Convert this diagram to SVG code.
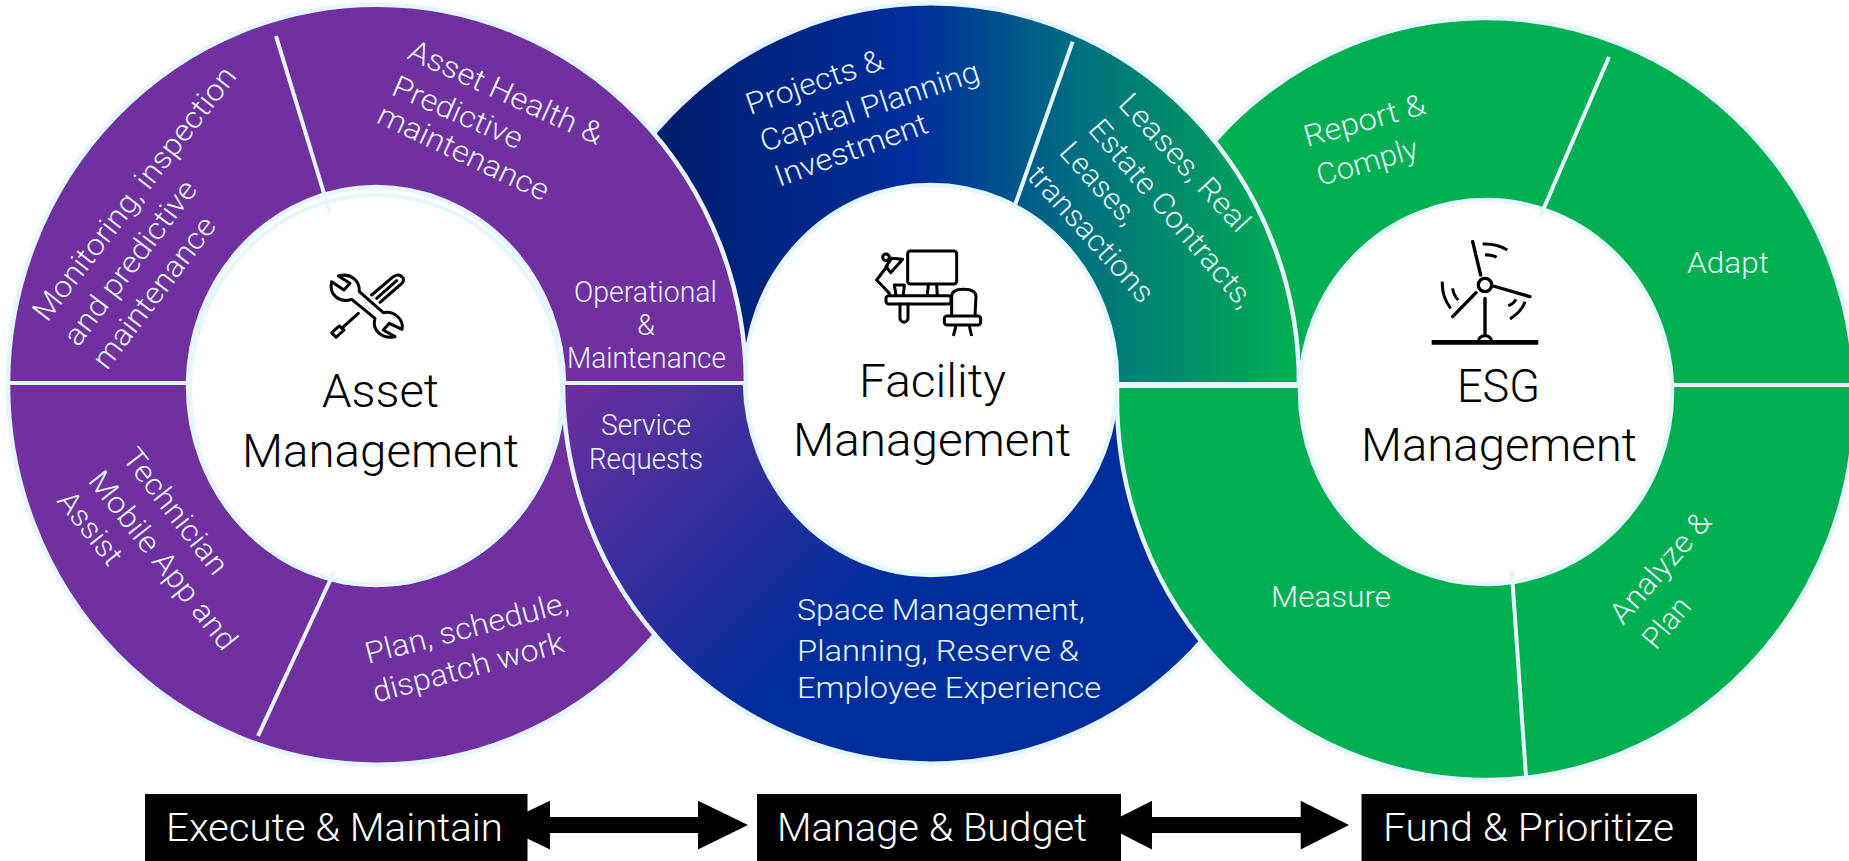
<svg xmlns="http://www.w3.org/2000/svg" width="1849" height="861" viewBox="0 0 1849 861">
<style>
text{font-family:"Roboto","Liberation Sans",sans-serif;font-weight:300}
.l{fill:#e5f6ff;font-size:30px}
.h{fill:#000;font-size:47px}
.b{fill:#fff;font-size:39px}
.ring{stroke:#e5f6ff;stroke-width:4.5;fill-rule:evenodd}
.d{stroke:#e5f6ff;stroke-width:4;fill:none}
.ic{fill:none;stroke:#000;stroke-linecap:round;stroke-linejoin:round;stroke-width:9}
.bt{stroke-linecap:butt}
</style>
<defs>
<clipPath id="up"><rect x="0" y="0" width="1849" height="384"/></clipPath>
<clipPath id="lo"><rect x="0" y="384" width="1849" height="477"/></clipPath>
<linearGradient id="fu" gradientUnits="userSpaceOnUse" x1="654" y1="0" x2="1300" y2="0">
<stop offset="0" stop-color="#001d6c"/><stop offset=".4" stop-color="#002d9c"/><stop offset=".66" stop-color="#00707f"/><stop offset="1" stop-color="#00b050"/>
</linearGradient>
<linearGradient id="fl" gradientUnits="userSpaceOnUse" x1="565" y1="383" x2="820" y2="640">
<stop offset="0" stop-color="#6f2f9f"/><stop offset="1" stop-color="#002d9c"/>
</linearGradient>
<path id="ra" d="M8 384.700A369 380 0 1 1 746 384.700A369 380 0 1 1 8 384.700ZM188 386A188 199 0 1 0 564 386A188 199 0 1 0 188 386Z"/>
<path id="rf" d="M563 383.500A368 380 0 1 1 1299 383.500A368 380 0 1 1 563 383.500ZM745 380A186 195 0 1 0 1117 380A186 195 0 1 0 745 380Z"/>
<path id="re" d="M1117 399A369 381 0 1 1 1855 399A369 381 0 1 1 1117 399ZM1300 392A186 192 0 1 0 1672 392A186 192 0 1 0 1300 392Z"/>
</defs>
<g id="rings">
<g clip-path="url(#up)">
<use href="#re" class="ring" fill="#00b050"/>
<use href="#rf" class="ring" fill="url(#fu)"/>
<use href="#ra" class="ring" fill="#7030a0"/>
</g>
<g clip-path="url(#lo)">
<use href="#ra" class="ring" fill="#7030a0"/>
<use href="#rf" class="ring" fill="url(#fl)"/>
<use href="#re" class="ring" fill="#00b050"/>
</g>
<ellipse cx="376" cy="390" rx="186" ry="195" fill="none" stroke="#e5f6ff" stroke-width="4"/>
</g>
<g id="connectors">
<path class="d" d="M9 383H189M565 383H745M276 36L330 213M334.500 571L258 736"/>
<path class="d" d="M1072.700 41.700L1015.400 204"/>
<path class="d" style="stroke-width:6" d="M1118 385H1300"/>
<path class="d" d="M1609 57L1540 217M1672 385H1849M1511.700 570L1526 777"/>
<path fill="#000" d="M499 825L550 800.700V817H698V800.700L748 825L698 849.500V833H550V849.500Z"/>
<path fill="#000" d="M1104 825L1152 800.700V817H1300.700V800.700L1349 825L1300.700 849.500V833H1152V849.500Z"/>
</g>
<g id="asset-management">
<g transform="translate(300 240) scale(.3333)">
<path class="ic" d="M115 108C150 98 180 120 178 155L250 218C285 212 312 240 306 268L268 250L250 270L285 290C245 298 215 270 225 235L155 178C120 190 85 165 95 125L132 150L150 130Z"/>
<path class="ic" d="M215 165L280 110Q298 98 310 115Q312 128 300 135L240 187M230 175L290 122M175 220L125 265M95 278L118 258L132 270L108 292Z"/>
</g>
<text class="h" x="322" y="407" textLength="117" lengthAdjust="spacingAndGlyphs">Asset</text>
<text class="h" x="242" y="467" textLength="277" lengthAdjust="spacingAndGlyphs">Management</text>
</g>
<g id="asset-labels">
<text class="l" x="574" y="302" textLength="143" lengthAdjust="spacingAndGlyphs">Operational</text>
<text class="l" x="637" y="335" textLength="18" lengthAdjust="spacingAndGlyphs">&amp;</text>
<text class="l" x="567" y="368" textLength="159" lengthAdjust="spacingAndGlyphs">Maintenance</text>
<text class="l" x="601" y="435" textLength="90" lengthAdjust="spacingAndGlyphs">Service</text>
<text class="l" x="589" y="469" textLength="114" lengthAdjust="spacingAndGlyphs">Requests</text>
<text class="l" transform="translate(368 664) rotate(-14.500)" textLength="209" lengthAdjust="spacingAndGlyphs">Plan, schedule,</text>
<text class="l" transform="translate(375.700 702.700) rotate(-15)" textLength="197" lengthAdjust="spacingAndGlyphs">dispatch work</text>
<text class="l" transform="translate(121 458) rotate(52)" textLength="151" lengthAdjust="spacingAndGlyphs">Technician</text>
<text class="l" transform="translate(87 481) rotate(51.600)" textLength="219" lengthAdjust="spacingAndGlyphs">Mobile App and</text>
<text class="l" transform="translate(56 501) rotate(51.600)" textLength="85" lengthAdjust="spacingAndGlyphs">Assist</text>
<text class="l" transform="translate(47 323) rotate(-52.300)" textLength="312" lengthAdjust="spacingAndGlyphs">Monitoring, inspection</text>
<text class="l" transform="translate(78 348) rotate(-52.800)" textLength="199" lengthAdjust="spacingAndGlyphs">and predictive</text>
<text class="l" transform="translate(107 371) rotate(-52.700)" textLength="182" lengthAdjust="spacingAndGlyphs">maintenance</text>
<text class="l" transform="translate(406 58) rotate(24.500)" textLength="210" lengthAdjust="spacingAndGlyphs">Asset Health &amp;</text>
<text class="l" transform="translate(390 94) rotate(23.500)" textLength="139" lengthAdjust="spacingAndGlyphs">Predictive</text>
<text class="l" transform="translate(375 122) rotate(25.300)" textLength="186" lengthAdjust="spacingAndGlyphs">maintenance</text>
</g>
<g id="facility-management">
<g transform="translate(850 230) scale(.3333)">
<rect class="ic" x="173" y="63" width="147" height="99" rx="8"/>
<path class="ic" d="M235 165L232 195M260 165L262 195M150 222V268Q162 285 174 268V222"/>
<rect class="ic" x="108" y="197" width="195" height="25" rx="8"/>
<path class="ic" d="M133 165L138 195M160 195L163 165H133M118 190L80 150L112 108M125 85L158 88L122 128L108 110Z"/>
<circle class="ic" cx="108" cy="82" r="10"/>
<path class="ic" style="fill:#fff" d="M305 258V200Q305 178 340 178Q378 178 378 200L375 258"/>
<rect class="ic" style="fill:#fff" x="283" y="258" width="109" height="27" rx="8"/>
<path class="ic bt" d="M318 288L310 318M358 288L365 318"/>
</g>
<text class="h" x="859" y="397" textLength="147" lengthAdjust="spacingAndGlyphs">Facility</text>
<text class="h" x="793" y="456" textLength="278" lengthAdjust="spacingAndGlyphs">Management</text>
</g>
<g id="facility-labels">
<text class="l" transform="translate(750 115) rotate(-19)" textLength="143" lengthAdjust="spacingAndGlyphs">Projects &amp;</text>
<text class="l" transform="translate(764 152) rotate(-18.300)" textLength="229" lengthAdjust="spacingAndGlyphs">Capital Planning</text>
<text class="l" transform="translate(779 187) rotate(-20)" textLength="161" lengthAdjust="spacingAndGlyphs">Investment</text>
<text class="l" transform="translate(1117 105) rotate(47)" textLength="177" lengthAdjust="spacingAndGlyphs">Leases, Real</text>
<text class="l" transform="translate(1087 130) rotate(49.500)" textLength="237" lengthAdjust="spacingAndGlyphs">Estate Contracts,</text>
<text class="l" transform="translate(1058 153) rotate(48)" textLength="100" lengthAdjust="spacingAndGlyphs">Leases,</text>
<text class="l" transform="translate(1026 177) rotate(48)" textLength="172" lengthAdjust="spacingAndGlyphs">transactions</text>
<text class="l" x="797" y="620" textLength="288" lengthAdjust="spacingAndGlyphs">Space Management,</text>
<text class="l" x="797" y="661" textLength="282" lengthAdjust="spacingAndGlyphs">Planning, Reserve &amp;</text>
<text class="l" x="797" y="698" textLength="304" lengthAdjust="spacingAndGlyphs">Employee Experience</text>
</g>
<g id="esg-management">
<g transform="translate(1410 220) scale(.3333)">
<circle class="ic" style="stroke-width:10" cx="225" cy="195" r="20"/>
<path class="ic" style="stroke-width:10" d="M212 165L188 65M250 198L360 230M198 218L128 290M225 235V345"/>
<path class="ic bt" d="M218 72Q260 70 292 90M225 105Q245 103 260 112M97 185Q95 230 122 265M128 205Q130 225 145 240M345 245Q335 275 300 297M318 238Q312 250 295 257"/>
<path class="ic bt" style="stroke-width:14" d="M65 367H385"/>
<path class="ic bt" d="M205 360A22 22 0 0 1 245 360"/>
</g>
<text class="h" x="1457" y="402" textLength="83" lengthAdjust="spacingAndGlyphs">ESG</text>
<text class="h" x="1361" y="461" textLength="276" lengthAdjust="spacingAndGlyphs">Management</text>
</g>
<g id="esg-labels">
<text class="l" transform="translate(1307 147) rotate(-15.600)" textLength="125" lengthAdjust="spacingAndGlyphs">Report &amp;</text>
<text class="l" transform="translate(1320 186) rotate(-16)" textLength="104" lengthAdjust="spacingAndGlyphs">Comply</text>
<text class="l" x="1687" y="273" textLength="82" lengthAdjust="spacingAndGlyphs">Adapt</text>
<text class="l" transform="translate(1623 626) rotate(-49)" textLength="137" lengthAdjust="spacingAndGlyphs">Analyze &amp;</text>
<text class="l" transform="translate(1656 651) rotate(-50)" textLength="57" lengthAdjust="spacingAndGlyphs">Plan</text>
<text class="l" x="1271" y="607" textLength="120" lengthAdjust="spacingAndGlyphs">Measure</text>
</g>
<g id="execute-maintain"><rect x="145" y="794" width="382.500" height="67" fill="#000"/><text class="b" x="166" y="841" textLength="337" lengthAdjust="spacingAndGlyphs">Execute &amp; Maintain</text></g>
<g id="manage-budget"><rect x="757" y="794" width="364" height="67" fill="#000"/><text class="b" x="777" y="841" textLength="310" lengthAdjust="spacingAndGlyphs">Manage &amp; Budget</text></g>
<g id="fund-prioritize"><rect x="1361.500" y="794" width="335.500" height="67" fill="#000"/><text class="b" x="1383" y="841" textLength="291" lengthAdjust="spacingAndGlyphs">Fund &amp; Prioritize</text></g>
</svg>
